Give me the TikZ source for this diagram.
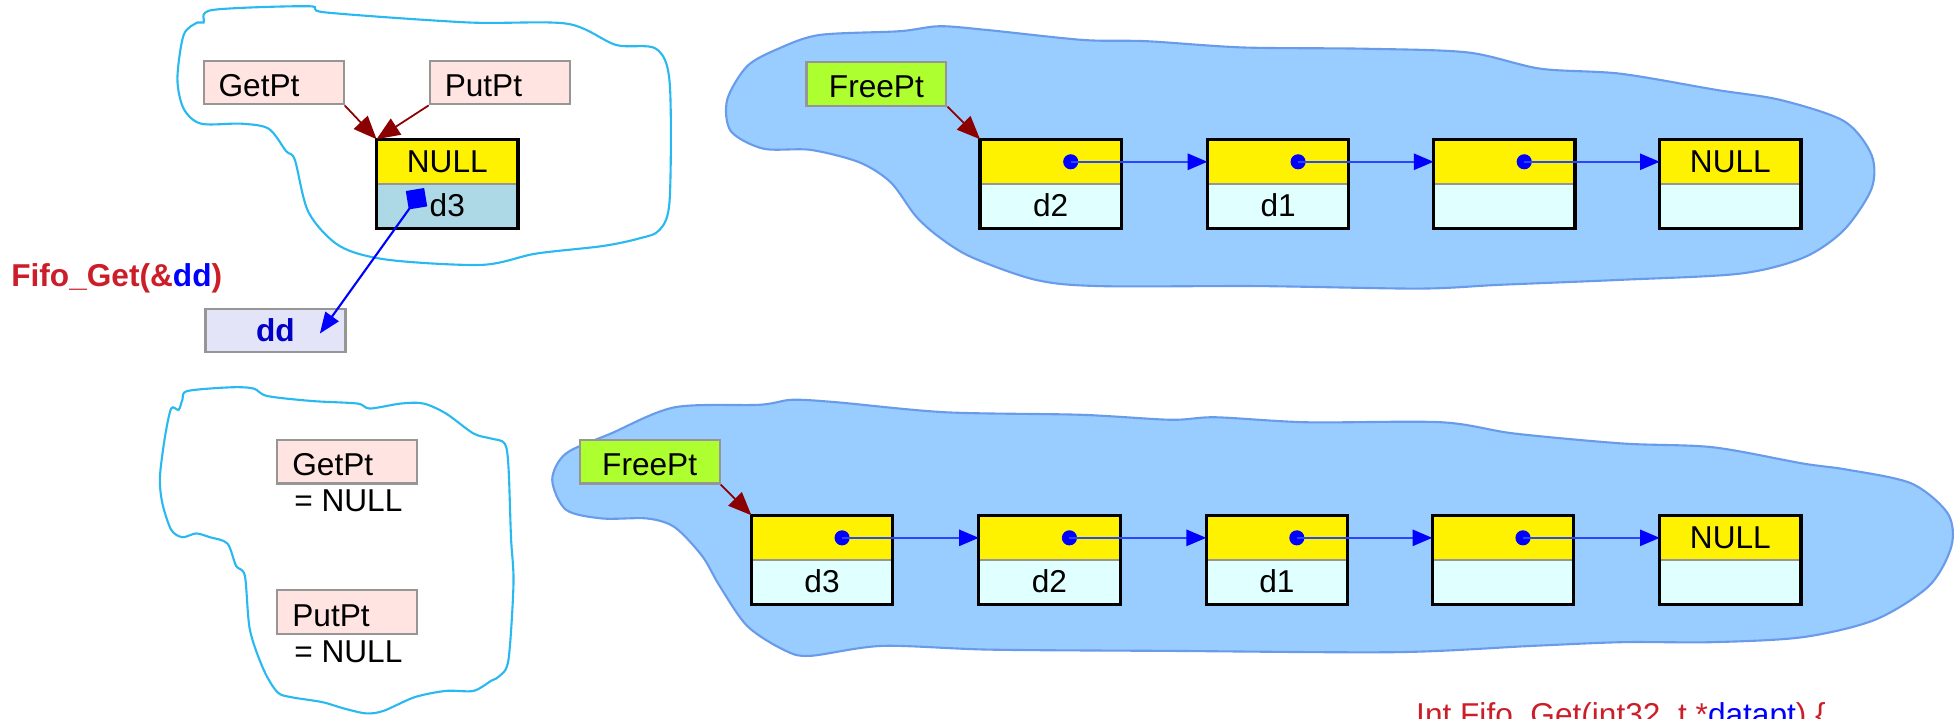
\documentclass[tikz,border=0pt]{standalone}
\usepackage{fontspec}
\setmainfont{Liberation Sans}
\usetikzlibrary{arrows.meta,shapes.geometric}

\definecolor{cloudline}{RGB}{40,185,240}
\definecolor{blobfill}{RGB}{153,204,255}
\definecolor{blobline}{RGB}{105,155,235}
\definecolor{pinkfill}{RGB}{255,228,225}
\definecolor{boxline}{RGB}{150,150,150}
\definecolor{greenfill}{RGB}{173,255,47}
\definecolor{lavfill}{RGB}{228,228,248}
\definecolor{cyanfill}{RGB}{224,255,255}
\definecolor{lbluefill}{RGB}{173,216,230}
\definecolor{darkred}{RGB}{139,0,0}
\definecolor{codered}{RGB}{204,30,40}
\definecolor{ddblue}{RGB}{0,0,200}
\definecolor{linkblue}{RGB}{40,70,255}

\begin{document}
\begin{tikzpicture}[x=0.0125cm,y=-0.0125cm,
  font=\fontsize{9pt}{11pt}\selectfont,
  ptrbox/.style={draw=boxline, line width=0.6pt, minimum width=1.4cm, minimum height=0.4375cm, inner sep=0pt},
  pinkbox/.style={ptrbox, fill=pinkfill, align=left, text width=1.1cm, text height=8pt, text depth=0pt},
  greenbox/.style={ptrbox, fill=greenfill, text height=8pt, text depth=0pt},
  topcell/.style={fill=yellow, minimum width=1.4cm, minimum height=0.4375cm, inner sep=0pt},
  botcell/.style={fill=cyanfill, minimum width=1.4cm, minimum height=0.4375cm, inner sep=0pt},
  cellframe/.style={draw=black, line width=0.9pt},
  midline/.style={draw=boxline, line width=0.6pt},
  dot/.style={circle, fill=blue, minimum size=4.3pt, inner sep=0pt},
  bluearrow/.style={draw=linkblue, line width=0.6pt, -{Triangle[length=5.6pt,width=4.6pt,color=blue]}},
  redarrow/.style={draw=darkred, line width=0.5pt, -{Triangle[length=6.6pt,width=5.4pt]}},
  cloud/.style={draw=cloudline, line width=0.6pt},
  blob/.style={fill=blobfill, draw=blobline, line width=0.6pt},
  plain/.style={inner sep=0pt, anchor=base west}
]
\clip (0,0) rectangle (1568,575);

% ---------- clouds and blobs ----------
\draw[cloud] plot[smooth cycle, tension=0.5] coordinates {
 (170,8) (247,5) (261,10) (375,18) (454,19) (493,36) (525,39) (536,66) (536,160)
 (528,184) (511,191) (482,197) (429,203) (386,212) (311,208) (272,197) (247,170)
 (236,128) (229,121) (215,103) (193,99) (161,99) (147,87) (142,63) (147,28) (158,18) (163,18)};

\draw[cloud] plot[smooth cycle, tension=0.5] coordinates {
 (150,313) (185,310) (203,311) (214,317) (250,321) (286,323) (296,327) (321,323) (339,323)
 (357,331) (379,347) (393,351) (404,355) (407,374) (409,430) (411,467) (407,528) (400,541)
 (393,545) (379,553) (357,553) (332,558) (307,569) (293,571) (275,567) (258,562) (233,558)
 (222,554) (211,536) (200,504) (196,461) (189,453) (182,435) (168,430) (157,427) (146,430)
 (137,424) (130,403) (128,382) (132,350) (137,327) (143,328) (146,320)};

\draw[blob] plot[smooth cycle, tension=0.5] coordinates {
 (656,28) (720,25) (752,21) (790,24) (867,32) (918,33) (995,38) (1092,39) (1175,42)
 (1233,55) (1297,59) (1374,72) (1425,80) (1476,97) (1498,124) (1498,151) (1476,184)
 (1444,206) (1393,219) (1297,224) (1200,228) (1136,231) (1008,229) (880,229) (829,224)
 (778,206) (752,190) (733,173) (713,146) (688,130) (649,120) (611,119) (585,105) (582,80)
 (598,53) (623,39)};

\draw[blob] plot[smooth cycle, tension=0.5] coordinates {
 (540,326) (608,324) (634,320) (670,322) (757,330) (865,332) (937,336) (973,334)
 (1046,338) (1154,338) (1212,347) (1299,355) (1371,358) (1443,371) (1479,376) (1530,387)
 (1559,411) (1562,437) (1544,469) (1501,496) (1443,510) (1371,514) (1299,514) (1226,517)
 (1118,522) (937,521) (793,520) (706,517) (648,525) (627,520) (598,501) (576,469)
 (562,445) (540,422) (518,415) (482,415) (453,408) (442,384) (453,363) (489,347)};

% ---------- top-left group ----------
\node[pinkbox] (getA) at (219,66) {GetPt};
\node[pinkbox] (putA) at (400,66) {PutPt};
\node[topcell] (nt) at (358,129.5) {NULL};
\node[botcell, fill=lbluefill] (nb) at (358,164.5) {d3};
\draw[midline] (nt.south west) -- (nt.south east);
\draw[cellframe] (nt.north west) rectangle (nb.south east);
\draw[redarrow] (getA.south east) -- (nt.north west);
\draw[redarrow] (putA.south west) -- (nt.north west);

\node[plain, font=\fontsize{9pt}{11pt}\selectfont\bfseries, text=codered] (call) at (8.5,229.5)
  {Fifo\_Get(\&\textcolor{blue}{dd})};
\node[ptrbox, fill=lavfill, text=ddblue, font=\fontsize{9pt}{11pt}\selectfont\bfseries] (dd) at (220.5,264.5) {dd};
\coordinate (dsrc) at (339.5,150.5);
\coordinate (ddin) at (256,267);
\draw[draw=blue, line width=0.6pt, {Diamond[length=7.5pt,width=7.5pt]}-{Triangle[length=6pt,width=4.6pt]}] (dsrc) -- (ddin);

% ---------- top-right list ----------
\node[greenbox] (freeA) at (701.5,67) {FreePt};
\foreach \n/\x/\lab/\top in {1/841/d2/{}, 2/1023/d1/{}, 3/1204/{}/{}, 4/1385/{}/NULL} {
  \node[topcell] (ta\n) at (\x,129.5) {\top};
  \node[botcell] (ba\n) at (\x,164.5) {\lab};
  \draw[midline] (ta\n.south west) -- (ta\n.south east);
  \draw[cellframe] (ta\n.north west) rectangle (ba\n.south east);
}
\foreach \n in {1,2,3} { \node[dot] (da\n) at ([xshift=0.2cm]ta\n.center) {}; }
\draw[bluearrow] (da1.center) -- (ta2.west);
\draw[bluearrow] (da2.center) -- (ta3.west);
\draw[bluearrow] (da3.center) -- (ta4.west);
\draw[redarrow] (freeA.south east) -- (ta1.north west);

% ---------- bottom-left group ----------
\node[pinkbox] (getB) at (278,369.5) {GetPt};
\node[plain] (getnull) at (235,409.5) {= NULL};
\node[pinkbox] (putB) at (278,490) {PutPt};
\node[plain] (putnull) at (235,530) {= NULL};

% ---------- bottom list ----------
\node[greenbox] (freeB) at (520,369.5) {FreePt};
\foreach \n/\x/\lab/\top in {1/658/d3/{}, 2/840/d2/{}, 3/1022/d1/{}, 4/1203/{}/{}, 5/1385/{}/NULL} {
  \node[topcell] (tb\n) at (\x,430.5) {\top};
  \node[botcell] (bb\n) at (\x,465.5) {\lab};
  \draw[midline] (tb\n.south west) -- (tb\n.south east);
  \draw[cellframe] (tb\n.north west) rectangle (bb\n.south east);
}
\foreach \n in {1,2,3,4} { \node[dot] (db\n) at ([xshift=0.2cm]tb\n.center) {}; }
\draw[bluearrow] (db1.center) -- (tb2.west);
\draw[bluearrow] (db2.center) -- (tb3.west);
\draw[bluearrow] (db3.center) -- (tb4.west);
\draw[bluearrow] (db4.center) -- (tb5.west);
\draw[redarrow] (freeB.south east) -- (tb1.north west);

% ---------- code line (cut by the page edge, as in the reference) ----------
\node[plain, text=codered] (code) at (1133,581)
  {Int Fifo\_Get(int32\_t *\textcolor{blue}{datapt}) \{};
\end{tikzpicture}
\end{document}
